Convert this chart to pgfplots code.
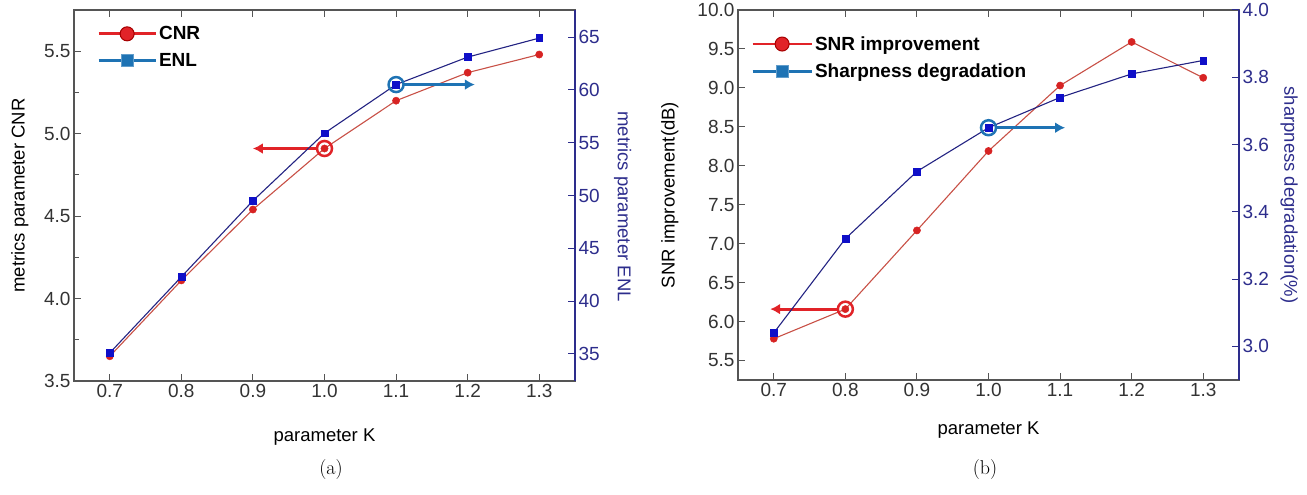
\documentclass[border=0pt]{standalone}
\usepackage{fontspec}
\usepackage{pgfplots}
\pgfplotsset{compat=1.18}
\usetikzlibrary{arrows.meta}
\newfontfamily\arial{Liberation Sans}

\definecolor{axgray}{RGB}{85,85,85}
\definecolor{navy}{RGB}{45,45,140}
\definecolor{plotred}{RGB}{200,80,70}
\definecolor{mkred}{RGB}{215,35,35}
\definecolor{plotnavy}{RGB}{35,35,130}
\definecolor{mkblue}{RGB}{15,15,200}
\definecolor{legred}{RGB}{225,35,40}
\definecolor{legblue}{RGB}{30,115,180}

\pgfplotsset{
  base/.style={
    scale only axis, width=501pt, height=371pt,
    xmin=0.65, xmax=1.35,
    xtick={0.7,0.8,0.9,1.0,1.1,1.2,1.3},
    xticklabels={0.7,0.8,0.9,1.0,1.1,1.2,1.3},
    tick align=inside,
    major tick length=7pt, minor tick length=5pt,
    axis line style={axgray, line width=1.1pt},
    every tick/.style={axgray, line width=1pt},
    xticklabel style={font=\arial\fontsize{19}{22}\selectfont, text=black!80},
    yticklabel style={font=\arial\fontsize{19}{22}\selectfont, text=black!80},
    label style={font=\arial\fontsize{18.5}{22}\selectfont},
    /pgf/number format/assume math mode=true,
  },
  cnr/.style={plotred, line width=1.1pt, mark=*, mark size=3.6pt,
    mark options={fill=mkred, draw=mkred, line width=0.5pt}},
  enl/.style={plotnavy, line width=1.1pt, mark=square*, mark size=3.4pt,
    mark options={fill=mkblue, draw=mkblue, line width=0.5pt}},
  legr/.style={legred, line width=2.8pt, mark=*, mark size=7pt,
    mark options={fill=legred, draw=red!65!black, line width=1pt}},
  legb/.style={legblue, line width=2.8pt, mark=square*, mark size=6pt,
    mark options={fill=legblue, draw=legblue!70!white, line width=1pt}},
}

\begin{document}
\begin{tikzpicture}
\useasboundingbox (0,0) rectangle (1307pt,495pt);

% ---------- (a) ----------
\begin{axis}[base, at={(74pt,114pt)}, anchor=south west,
  ymin=3.5, ymax=5.75,
  ytick={3.5,4.0,4.5,5.0,5.5}, yticklabels={3.5,4.0,4.5,5.0,5.5},
  minor y tick num=1, ytick pos=left,
  xlabel={parameter K}, ylabel={metrics parameter CNR},
  xlabel style={at={(axis description cs:0.5,-0.15)}, anchor=center},
  ylabel style={at={(axis description cs:-0.108,0.5)}, anchor=center},
  legend style={draw=none, fill=none, at={(axis description cs:0.04,0.967)}, anchor=north west,
    font=\arial\bfseries\fontsize{19}{22}\selectfont, row sep=8pt},
  legend cell align=left,
  legend image code/.code={\draw[#1, mark=none] (0pt,0pt) -- (57pt,0pt);
    \draw[#1] plot coordinates {(28.5pt,0pt)};},
]
\addlegendimage{legr}
\addlegendentry{CNR}
\addlegendimage{legb}
\addlegendentry{ENL}
\addplot[cnr, forget plot] coordinates {
  (0.7,3.65) (0.8,4.11) (0.9,4.54) (1.0,4.91) (1.1,5.20) (1.2,5.37) (1.3,5.48)};
\draw[legred, line width=2.5pt] (axis cs:1.0,4.91) circle[radius=7.5pt];
\draw[legred, line width=3pt, -{Latex[length=10pt,width=11pt]}]
  ([xshift=-7pt]axis cs:1.0,4.91) -- (axis cs:0.9,4.91);
\end{axis}

\begin{axis}[base, at={(74pt,114pt)}, anchor=south west,
  hide x axis, axis y line*=right,
  ymin=32.44, ymax=67.56,
  ytick={35,40,45,50,55,60,65}, yticklabels={35,40,45,50,55,60,65},
  axis line style={navy, line width=1.1pt},
  yticklabel style={text=navy},
  ytick style={navy},
  ylabel={metrics parameter ENL},
  ylabel style={text=navy, rotate=180, at={(axis description cs:1.095,0.47)}, anchor=center},
]
\addplot[enl] coordinates {
  (0.7,35.1) (0.8,42.3) (0.9,49.5) (1.0,55.9) (1.1,60.5) (1.2,63.1) (1.3,64.9)};
\draw[legblue, line width=2.5pt] (axis cs:1.1,60.5) circle[radius=7.5pt];
\draw[legblue, line width=3pt, -{Latex[length=10pt,width=11pt]}]
  ([xshift=7pt]axis cs:1.1,60.5) -- (axis cs:1.21,60.5);
\end{axis}

% ---------- (b) ----------
\begin{axis}[base, at={(738pt,115pt)}, anchor=south west, height=370pt,
  ymin=5.25, ymax=10.0,
  ytick={5.5,6.0,6.5,7.0,7.5,8.0,8.5,9.0,9.5,10.0},
  yticklabels={5.5,6.0,6.5,7.0,7.5,8.0,8.5,9.0,9.5,10.0},
  ytick pos=left,
  xlabel={parameter K}, ylabel={SNR improvement(dB)},
  xlabel style={at={(axis description cs:0.5,-0.135)}, anchor=center},
  ylabel style={at={(axis description cs:-0.136,0.5)}, anchor=center},
  legend style={draw=none, fill=none, at={(axis description cs:0.02,0.94)}, anchor=north west,
    font=\arial\bfseries\fontsize{19}{22}\selectfont, row sep=8pt},
  legend cell align=left,
  legend image code/.code={\draw[#1, mark=none] (0pt,0pt) -- (59pt,0pt);
    \draw[#1] plot coordinates {(29.5pt,0pt)};},
]
\addlegendimage{legr}
\addlegendentry{SNR improvement}
\addlegendimage{legb}
\addlegendentry{Sharpness degradation}
\addplot[cnr, forget plot] coordinates {
  (0.7,5.78) (0.8,6.16) (0.9,7.17) (1.0,8.19) (1.1,9.03) (1.2,9.59) (1.3,9.13)};
\draw[legred, line width=2.5pt] (axis cs:0.8,6.16) circle[radius=7.5pt];
\draw[legred, line width=3pt, -{Latex[length=10pt,width=11pt]}]
  ([xshift=-7pt]axis cs:0.8,6.16) -- (axis cs:0.695,6.16);
\end{axis}

\begin{axis}[base, at={(738pt,115pt)}, anchor=south west, height=370pt,
  hide x axis, axis y line*=right,
  ymin=2.9, ymax=4.0,
  ytick={3.0,3.2,3.4,3.6,3.8,4.0}, yticklabels={3.0,3.2,3.4,3.6,3.8,4.0},
  axis line style={navy, line width=1.1pt},
  yticklabel style={text=navy},
  ytick style={navy},
  ylabel={sharpness degradation(\%)},
  ylabel style={text=navy, rotate=180, at={(axis description cs:1.1,0.5)}, anchor=center},
]
\addplot[enl] coordinates {
  (0.7,3.04) (0.8,3.32) (0.9,3.52) (1.0,3.65) (1.1,3.74) (1.2,3.81) (1.3,3.85)};
\draw[legblue, line width=2.5pt] (axis cs:1.0,3.65) circle[radius=7.5pt];
\draw[legblue, line width=3pt, -{Latex[length=10pt,width=11pt]}]
  ([xshift=7pt]axis cs:1.0,3.65) -- (axis cs:1.107,3.65);
\end{axis}

\node[font=\fontsize{20}{24}\selectfont] at (331pt,25pt) {(a)};
\node[font=\fontsize{20}{24}\selectfont] at (985pt,25pt) {(b)};
\end{tikzpicture}
\end{document}
